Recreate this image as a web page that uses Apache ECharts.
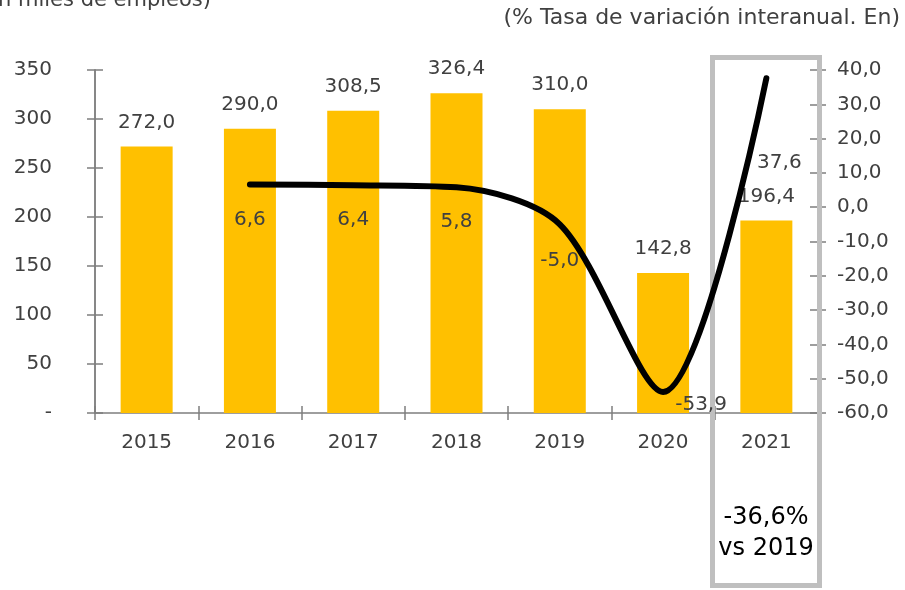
<!DOCTYPE html>
<html>
<head>
<meta charset="utf-8">
<script src="https://cdn.jsdelivr.net/npm/echarts@6/dist/echarts.min.js"></script>
<style>
  html, body { margin: 0; padding: 0; background: #fff; }
  #chart { width: 905px; height: 590px; }
</style>
</head>
<body>
<div id="chart"></div>
<script>
// datos
var years = ['2015', '2016', '2017', '2018', '2019', '2020', '2021'];
var empleos = [272.0, 290.0, 308.5, 326.4, 310.0, 142.8, 196.4];
var tasa = [null, 6.6, 6.4, 5.8, -5.0, -53.9, 37.6];
var leftTicks = [0, 350, 50];
var rightTicks = [-60, 40, 10];

var FONT = 'DejaVu Sans';
var TXT = '#404040';
var AXIS = '#7f7f7f';

function coma(v) {
  return v.toFixed(1).replace('.', ',');
}

// desplazamiento de las etiquetas de la linea (como en excel)
var offs = [null, [0, 35], [0, 35], [0, 34], [0, 36], [38, 13], [13, 85]];

var lineData = tasa.map(function (v, i) {
  if (v === null) return null;
  return { value: v, label: { offset: offs[i] } };
});

var chart = echarts.init(document.getElementById('chart'));

var yBase = function (pos, lo, hi, step, showLbl, inside, margin, fmt) {
  return {
    type: 'value',
    position: pos,
    min: lo, max: hi, interval: step,
    splitLine: { show: false },
    axisLine: { show: true, lineStyle: { color: AXIS, width: 1.5 } },
    axisTick: { show: true, inside: inside, length: 8, lineStyle: { color: AXIS, width: 1.5 } },
    axisLabel: { show: showLbl, margin: margin, color: TXT, fontFamily: FONT, fontSize: 20, formatter: fmt }
  };
};

var leftFmt = function (v) { return v === 0 ? '-' : String(v); };
var rightFmt = function (v) { return coma(v); };

chart.setOption({
  animation: false,
  grid: { left: 95, right: 87, top: 70, bottom: 177 },
  xAxis: [
    {
      type: 'category',
      data: years,
      axisLine: { onZero: false, lineStyle: { color: AXIS, width: 1.5 } },
      axisTick: { show: true, length: 7, lineStyle: { color: AXIS, width: 1.5 } },
      axisLabel: { margin: 20, color: TXT, fontFamily: FONT, fontSize: 20 }
    },
    {
      type: 'category',
      data: years,
      position: 'bottom',
      axisLine: { show: false, onZero: false },
      axisTick: { show: true, inside: true, length: 7, lineStyle: { color: AXIS, width: 1.5 } },
      axisLabel: { show: false }
    }
  ],
  yAxis: [
    yBase('left', leftTicks[0], leftTicks[1], leftTicks[2], true, false, 43, leftFmt),
    yBase('right', rightTicks[0], rightTicks[1], rightTicks[2], true, false, 19, rightFmt),
    yBase('left', leftTicks[0], leftTicks[1], leftTicks[2], false, true, 43, leftFmt),
    yBase('right', rightTicks[0], rightTicks[1], rightTicks[2], false, true, 19, rightFmt)
  ],
  series: [
    {
      type: 'bar',
      data: empleos,
      barWidth: 52,
      itemStyle: { color: '#FFC000' },
      label: {
        show: true, position: 'top', distance: 14,
        color: TXT, fontFamily: FONT, fontSize: 20,
        formatter: function (p) { return coma(p.value); }
      }
    },
    {
      type: 'line',
      yAxisIndex: 1,
      data: lineData,
      smooth: 0.3,
      showSymbol: true,
      symbol: 'circle',
      symbolSize: 1,
      itemStyle: { color: '#000' },
      lineStyle: { color: '#000', width: 6, cap: 'round', join: 'round' },
      label: {
        show: true, position: 'inside',
        color: TXT, fontFamily: FONT, fontSize: 20,
        formatter: function (p) { return coma(p.value); }
      },
      z: 5
    }
  ],
  graphic: [
    {
      type: 'text', z: 10,
      style: {
        x: 211, y: 1, text: '(En miles de empleos)', align: 'right', verticalAlign: 'middle',
        fill: TXT, font: '21px "DejaVu Sans"'
      }
    },
    {
      type: 'text', z: 10,
      style: {
        x: 900, y: 18, text: '(% Tasa de variación interanual. En)', align: 'right', verticalAlign: 'middle',
        fill: TXT, font: '22px "DejaVu Sans"'
      }
    },
    {
      type: 'rect', z: 1,
      shape: { x: 712.5, y: 57.5, width: 107, height: 528 },
      style: { fill: null, stroke: '#BFBFBF', lineWidth: 5 }
    },
    {
      type: 'text', z: 10,
      style: {
        x: 766, y: 533, text: '-36,6%\nvs 2019', align: 'center', verticalAlign: 'middle',
        fill: '#000', font: '24px "DejaVu Sans"', lineHeight: 31
      }
    }
  ]
});
</script>
</body>
</html>
